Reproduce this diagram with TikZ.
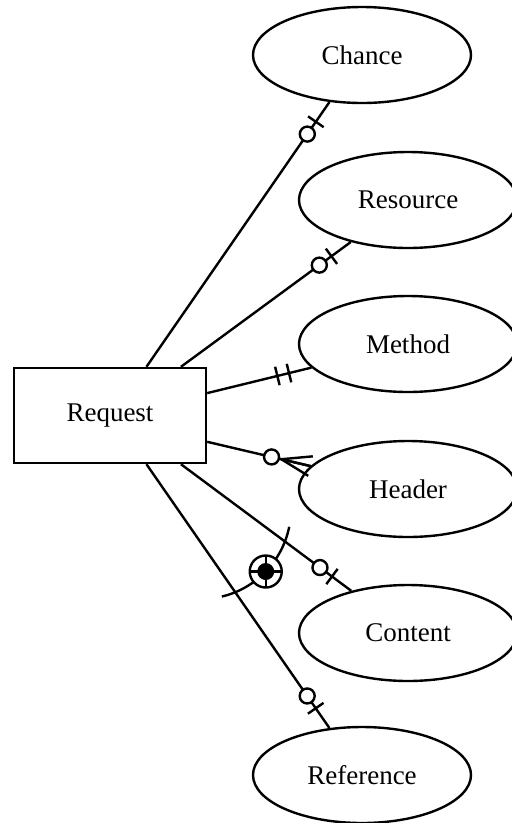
\documentclass[tikz,border=0pt]{standalone}
\usepackage{fontspec}
\setmainfont{Liberation Serif}
\usetikzlibrary{shapes.geometric,calc}

\tikzset{
  lbl/.style={font=\fontsize{27}{32}\selectfont},
  ent/.style={draw, rectangle, lbl, minimum width=192pt, minimum height=95pt, inner sep=0pt},
  attr/.style={draw, ellipse, lbl, minimum width=218pt, minimum height=96pt, inner sep=0pt},
  rel/.style={draw}
}

% single bar across a relationship line: #1 end at the attribute, #2 far end, #3 distance
\newcommand{\erTick}[3]{%
  \path ($(#1)!#3!(#2)$) coordinate (tk);
  \draw ($(tk)!9.5pt!90:(#2)$) -- ($(tk)!9.5pt!-90:(#2)$);
}
% zero or one
\newcommand{\erZeroOne}[2]{%
  \erTick{#1}{#2}{24pt}
  \draw[fill=white] ($(#1)!39pt!(#2)$) circle[radius=7.5pt];
}
% exactly one
\newcommand{\erOne}[2]{%
  \erTick{#1}{#2}{23pt}
  \erTick{#1}{#2}{35pt}
}
% zero or many
\newcommand{\erZeroMany}[2]{%
  \path ($(#1)!30pt!(#2)$) coordinate (cfa);
  \draw (cfa) -- (#1);
  \draw (cfa) -- ($(#1)!10pt!90:(#2)$);
  \draw (cfa) -- ($(#1)!10pt!-90:(#2)$);
  \draw[fill=white] ($(#1)!40pt!(#2)$) circle[radius=7.5pt];
}

\begin{document}
\begin{tikzpicture}[x=1pt, y=-1pt, line width=2.4pt]
\useasboundingbox (0,0) rectangle (512,823);

% entity and its attributes
\node[ent]  (req)       at (110,415.5) {Request};
\node[attr] (chance)    at (362,55)  {Chance};
\node[attr] (resource)  at (408,200) {Resource};
\node[attr] (method)    at (408,344) {Method};
\node[attr] (header)    at (408,489) {Header};
\node[attr] (content)   at (408,633) {Content};
\node[attr] (reference) at (362,775) {Reference};

% attachment points on the entity box
\coordinate (s1) at ($(req.north west)!0.6875!(req.north east)$);
\coordinate (s2) at ($(req.north west)!0.865!(req.north east)$);
\coordinate (s3) at ($(req.north east)!0.27!(req.south east)$);
\coordinate (s4) at ($(req.north east)!0.77!(req.south east)$);
\coordinate (s5) at ($(req.south west)!0.865!(req.south east)$);
\coordinate (s6) at ($(req.south west)!0.6875!(req.south east)$);

% relationship lines
\draw[rel] (s1) -- (chance)    coordinate[pos=1] (e1);
\draw[rel] (s2) -- (resource)  coordinate[pos=1] (e2);
\draw[rel] (s3) -- (method)    coordinate[pos=1] (e3);
\draw[rel] (s4) -- (header)    coordinate[pos=1] (e4);
\draw[rel] (s5) -- (content)   coordinate[pos=1] (e5);
\draw[rel] (s6) -- (reference) coordinate[pos=1] (e6);

% cardinality marks
\erZeroOne{e1}{s1}
\erZeroOne{e2}{s2}
\erOne{e3}{s3}
\erZeroMany{e4}{s4}
\erZeroOne{e5}{s5}
\erZeroOne{e6}{s6}

% exclusive arc over the Content and Reference lines
\coordinate (xc) at (201,509);
\draw (xc) ++(11.4:90) arc[start angle=11.4, end angle=76.6, radius=90];
\path (xc) ++(44:90) coordinate (xs);
\draw[fill=white] (xs) circle[radius=16pt];
\fill (xs) circle[radius=8.5pt];
\draw ($(xs)+(-16,0)$) -- ($(xs)+(16,0)$);
\draw ($(xs)+(0,-16)$) -- ($(xs)+(0,16)$);
\end{tikzpicture}
\end{document}
